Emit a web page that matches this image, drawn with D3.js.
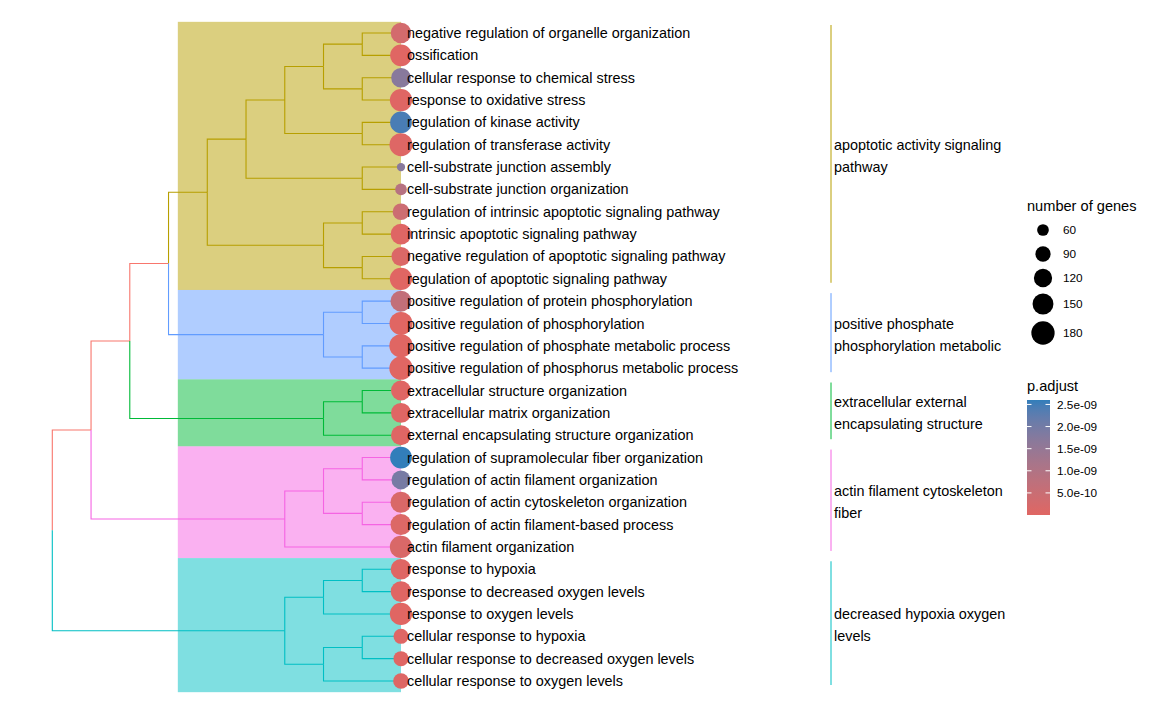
<!DOCTYPE html>
<html>
<head>
<meta charset="utf-8">
<script src="https://cdn.jsdelivr.net/npm/d3@7"></script>
<style>
  html, body { margin: 0; padding: 0; background: #fff; }
  svg { display: block; font-family: "Liberation Sans", Arial, sans-serif; }
</style>
</head>
<body>
<svg id="chart" width="1152" height="711"></svg>
<script>
// ---------------- data ----------------
const terms = [
  "negative regulation of organelle organization",
  "ossification",
  "cellular response to chemical stress",
  "response to oxidative stress",
  "regulation of kinase activity",
  "regulation of transferase activity",
  "cell-substrate junction assembly",
  "cell-substrate junction organization",
  "regulation of intrinsic apoptotic signaling pathway",
  "intrinsic apoptotic signaling pathway",
  "negative regulation of apoptotic signaling pathway",
  "regulation of apoptotic signaling pathway",
  "positive regulation of protein phosphorylation",
  "positive regulation of phosphorylation",
  "positive regulation of phosphate metabolic process",
  "positive regulation of phosphorus metabolic process",
  "extracellular structure organization",
  "extracellular matrix organization",
  "external encapsulating structure organization",
  "regulation of supramolecular fiber organization",
  "regulation of actin filament organization",
  "regulation of actin cytoskeleton organization",
  "regulation of actin filament-based process",
  "actin filament organization",
  "response to hypoxia",
  "response to decreased oxygen levels",
  "response to oxygen levels",
  "cellular response to hypoxia",
  "cellular response to decreased oxygen levels",
  "cellular response to oxygen levels"
];
const geneCounts = [
  145, 160, 135, 167, 160, 176, 37, 60, 104, 147, 128, 167,
  151, 176, 180, 180,
  139, 139, 139,
  160, 128, 151, 151, 167,
  147, 147, 167, 88, 88, 94
];
const pAdjust = [
  3.0e-10, 1.0e-12, 1.70e-9, 2.0e-11, 2.45e-9, 5.0e-11, 1.70e-9, 9.0e-10, 4.5e-10, 2.0e-11, 1.2e-10, 1.0e-11,
  6.5e-10, 1.0e-11, 1.2e-12, 1.2e-12,
  2.0e-11, 2.0e-11, 2.0e-11,
  2.6e-9, 1.95e-9, 1.5e-10, 1.0e-10, 1.5e-10,
  2.0e-11, 2.0e-11, 1.0e-11, 5.0e-11, 5.0e-11, 6.0e-11
];
// cluster index of each leaf
const leafCluster = [
  0,0,0,0,0,0,0,0,0,0,0,0,
  1,1,1,1,
  2,2,2,
  3,3,3,3,3,
  4,4,4,4,4,4
];
const clusterLabels = [
  ["apoptotic activity signaling", "pathway"],
  ["positive phosphate", "phosphorylation metabolic"],
  ["extracellular external", "encapsulating structure"],
  ["actin filament cytoskeleton", "fiber"],
  ["decreased hypoxia oxygen", "levels"]
];
const clusterColors = ["#B79F00", "#619CFF", "#00BA38", "#F564E3", "#00BFC4"];
const backboneColor = "#F8766D";
// dendrogram topology (leaf indices)
const yellowClade = [[[[[0, 1], [2, 3]], [4, 5]], [6, 7]], [[8, 9], [10, 11]]];
const blueClade = [[12, 13], [14, 15]];
const greenClade = [[16, 17], 18];
const pinkClade = [[[19, 20], [21, 22]], 23];
const cyanClade = [[[24, 25], 26], [[27, 28], 29]];
const treeTopology = [[[[yellowClade, blueClade], greenClade], pinkClade], cyanClade];

const sizeBreaks = [60, 90, 120, 150, 180];
const pBreaks = [5e-10, 1e-9, 1.5e-9, 2e-9, 2.5e-9];
const pBreakLabels = ["5.0e-10", "1.0e-09", "1.5e-09", "2.0e-09", "2.5e-09"];
const sizeTitle = "number of genes";
const colorTitle = "p.adjust";

// ---------------- build tree ----------------
function build(n) {
  if (typeof n === "number") return { leaf: n, h: 0, leaves: [n] };
  const children = n.map(build);
  return {
    children,
    h: d3.max(children, c => c.h) + 1,
    leaves: children.flatMap(c => c.leaves)
  };
}
const root = build(treeTopology);

const svg = d3.select("#chart");
const leafX = 401;
const x = d3.scaleLinear().domain([0, root.h]).range([leafX, 52.3]);
const y = d3.scaleLinear().domain([0, terms.length - 1]).range([33, 681]);
const step = y(1) - y(0);

function setY(n) {
  if (n.children) { n.children.forEach(setY); n.y = d3.mean(n.children, c => c.y); }
  else n.y = y(n.leaf);
  const cl = new Set(n.leaves.map(i => leafCluster[i]));
  n.group = cl.size === 1 ? [...cl][0] : -1;
}
setY(root);

const color = d3.scaleLinear()
  .domain([d3.min(pAdjust), d3.max(pAdjust)])
  .range(["#e06663", "#327eba"])
  .interpolate(d3.interpolateLab);
const diam = d3.scaleSqrt().domain([37, 180]).range([8.3, 23.3]);

// ---------------- highlight rects ----------------
const hlLeft = x(5.76);
clusterColors.forEach((c, k) => {
  const idx = leafCluster.map((v, i) => v === k ? i : -1).filter(i => i >= 0);
  const y0 = y(d3.min(idx)) - step / 2, y1 = y(d3.max(idx)) + step / 2;
  svg.append("rect")
    .attr("x", hlLeft).attr("y", y0)
    .attr("width", leafX - hlLeft).attr("height", y1 - y0)
    .attr("fill", c).attr("fill-opacity", 0.5);
});

// ---------------- edges ----------------
const edges = [];
(function walk(n) {
  if (!n.children) return;
  n.children.forEach(c => { edges.push({ p: n, c }); walk(c); });
})(root);
svg.append("g").selectAll("path").data(edges).join("path")
  .attr("d", e => `M${x(e.p.h)},${e.p.y}V${e.c.y}H${x(e.c.h)}`)
  .attr("fill", "none")
  .attr("stroke", e => e.c.group >= 0 ? clusterColors[e.c.group] : backboneColor)
  .attr("stroke-width", 1.1);

// ---------------- dots ----------------
svg.append("g").selectAll("circle").data(terms).join("circle")
  .attr("cx", leafX).attr("cy", (d, i) => y(i))
  .attr("r", (d, i) => diam(geneCounts[i]) / 2)
  .attr("fill", (d, i) => color(pAdjust[i]));

// ---------------- leaf labels ----------------
svg.append("g").selectAll("text").data(terms).join("text")
  .attr("x", 407).attr("y", (d, i) => y(i))
  .attr("dy", "0.35em")
  .attr("font-size", 14.4)
  .attr("fill", "#000")
  .text(d => d);

// ---------------- cluster bars + labels ----------------
clusterLabels.forEach((lab, k) => {
  const idx = leafCluster.map((v, i) => v === k ? i : -1).filter(i => i >= 0);
  const b0 = y(d3.min(idx)) - 8, b1 = y(d3.max(idx)) + 4;
  svg.append("line")
    .attr("x1", 831).attr("x2", 831).attr("y1", b0).attr("y2", b1)
    .attr("stroke", clusterColors[k]).attr("stroke-width", 1);
  const cy = (b0 + b1) / 2 + 2;
  lab.forEach((t, j) => {
    svg.append("text")
      .attr("x", 834).attr("y", cy + (j - (lab.length - 1) / 2) * 22)
      .attr("dy", "0.35em").attr("font-size", 14.4).attr("fill", "#000")
      .text(t);
  });
});

// ---------------- size legend ----------------
const lg = svg.append("g");
lg.append("text").attr("x", 1027).attr("y", 206).attr("dy", "0.35em")
  .attr("font-size", 14.6).text(sizeTitle);
const sizeY = [230, 254, 278, 304, 333];
sizeBreaks.forEach((v, i) => {
  lg.append("circle").attr("cx", 1043).attr("cy", sizeY[i]).attr("r", diam(v) / 2).attr("fill", "#000");
  lg.append("text").attr("x", 1063).attr("y", sizeY[i]).attr("dy", "0.35em")
    .attr("font-size", 11.8).text(v);
});

// ---------------- colour legend ----------------
lg.append("text").attr("x", 1027).attr("y", 386).attr("dy", "0.35em")
  .attr("font-size", 14.6).text(colorTitle);
const cbTop = 400, cbBot = 515, cbX = 1027, cbW = 23;
const cy = d3.scaleLinear().domain(color.domain()).range([cbBot, cbTop]);
const defs = svg.append("defs");
const grad = defs.append("linearGradient").attr("id", "cb")
  .attr("x1", 0).attr("y1", 1).attr("x2", 0).attr("y2", 0);
d3.range(0, 1.0001, 0.05).forEach(t => {
  grad.append("stop").attr("offset", t)
    .attr("stop-color", color(color.domain()[0] + t * (color.domain()[1] - color.domain()[0])));
});
lg.append("rect").attr("x", cbX).attr("y", cbTop).attr("width", cbW).attr("height", cbBot - cbTop)
  .attr("fill", "url(#cb)");
pBreaks.forEach((v, i) => {
  const yy = cy(v);
  lg.append("line").attr("x1", cbX).attr("x2", cbX + 4.5).attr("y1", yy).attr("y2", yy)
    .attr("stroke", "#fff").attr("stroke-width", 1);
  lg.append("line").attr("x1", cbX + cbW - 4.5).attr("x2", cbX + cbW).attr("y1", yy).attr("y2", yy)
    .attr("stroke", "#fff").attr("stroke-width", 1);
  lg.append("text").attr("x", 1057).attr("y", yy).attr("dy", "0.35em")
    .attr("font-size", 11.8).text(pBreakLabels[i]);
});
</script>
</body>
</html>
